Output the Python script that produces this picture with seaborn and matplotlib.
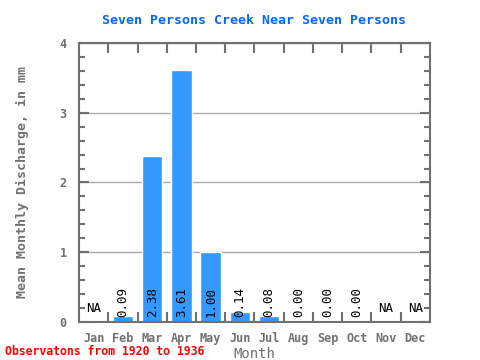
import seaborn as sns
import matplotlib.pyplot as plt
from matplotlib.ticker import MultipleLocator, FixedLocator
import pandas as pd

months = ["Jan", "Feb", "Mar", "Apr", "May", "Jun", "Jul", "Aug", "Sep", "Oct", "Nov", "Dec"]
discharge = [None, 0.09, 2.38, 3.61, 1.00, 0.14, 0.08, 0.00, 0.00, 0.00, None, None]

df = pd.DataFrame({"Month": months, "Discharge": [v if v is not None else 0 for v in discharge]})

sns.set_style("white")
plt.rcParams['font.family'] = ['DejaVu Sans Mono']

fig = plt.figure(figsize=(4.8, 3.6), dpi=100)
ax = fig.add_axes([0.1646, 0.1056, 0.7312, 0.775])

sns.barplot(data=df, x="Month", y="Discharge", color="#3399ff", saturation=1,
            width=0.7, ax=ax, zorder=2)

ax.set_xlim(-0.5, 11.5)
ax.set_ylim(0, 4)
grey = "#707070"
for s in ax.spines.values():
    s.set_color(grey)
    s.set_linewidth(1.5)

ax.yaxis.set_major_locator(MultipleLocator(1))
ax.yaxis.set_minor_locator(MultipleLocator(0.2))
ax.xaxis.set_minor_locator(FixedLocator([i + 0.5 for i in range(11)]))
ax.tick_params(axis="x", which="major", length=0, labelsize=8.5, colors=grey, pad=7)
ax.tick_params(axis="x", which="minor", direction="in", length=7, width=1.5,
               color=grey, top=True, bottom=True)
ax.tick_params(axis="y", which="major", direction="in", length=7, width=1.5,
               color=grey, labelsize=8.5, labelcolor=grey, left=True, right=True, pad=9)
ax.tick_params(axis="y", which="minor", direction="in", length=4, width=1.5,
               color=grey, left=True, right=True)
for lbl in ax.get_xticklabels() + ax.get_yticklabels():
    lbl.set_fontweight("bold")

ax.grid(axis="y", which="major", color="#aaaaaa", linewidth=1, zorder=1)
ax.set_axisbelow(True)

for i, v in enumerate(discharge):
    if v is None:
        ax.text(i, 0.1, "NA", ha="center", va="bottom", fontsize=9, color="black")
    else:
        ax.text(i, 0.07, f"{v:.2f}", ha="center", va="bottom", rotation=90,
                fontsize=9, color="black")

ax.set_xlabel("Month", fontsize=10, color=grey, labelpad=2)
ax.set_ylabel("Mean Monthly Discharge, in mm", fontsize=9.5, color=grey,
              fontweight="bold", labelpad=22)
ax.set_title("Seven Persons Creek Near Seven Persons", fontsize=9.5,
             color="#0066ff", fontweight="bold", pad=14)
fig.text(0.01, 0.015, "Observatons from 1920 to 1936", fontsize=8.3, color="red",
         fontweight="bold")

fig.savefig("out.png", dpi=100)
